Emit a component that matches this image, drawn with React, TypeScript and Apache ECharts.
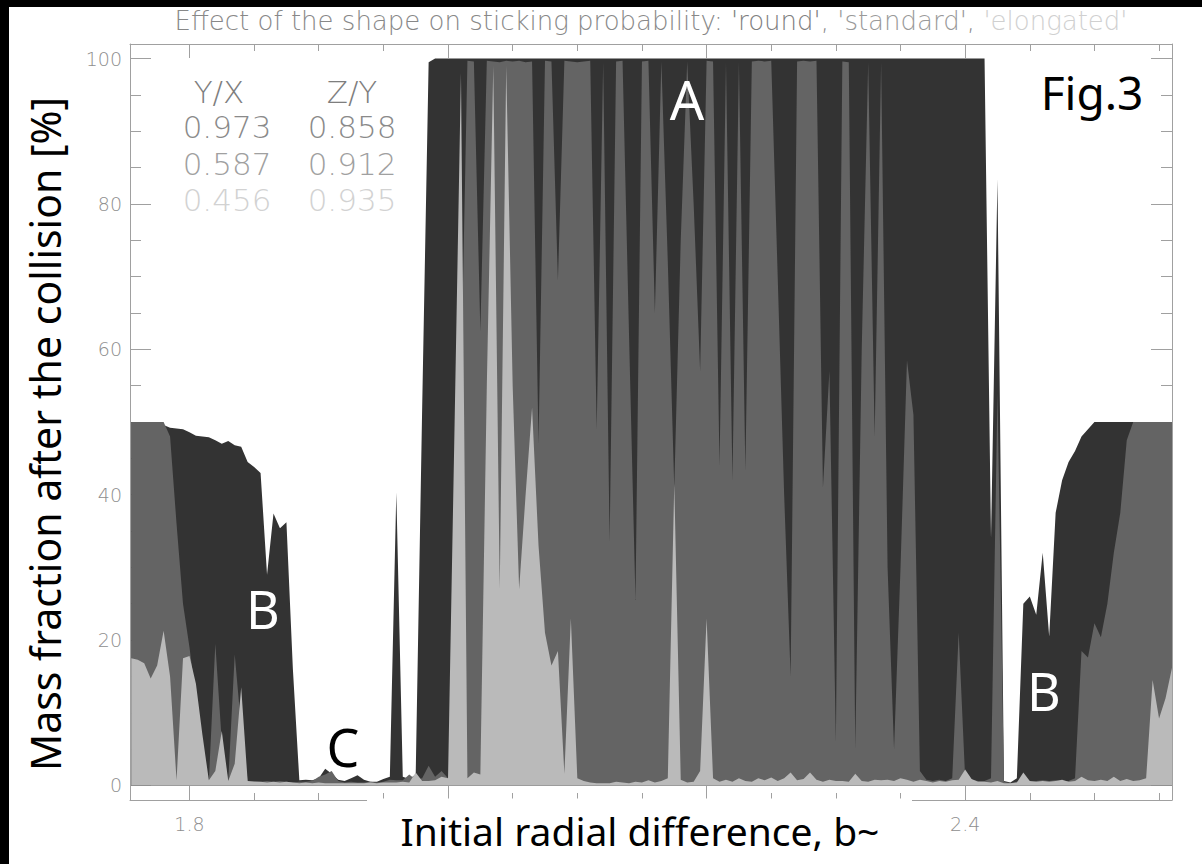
import React, { useEffect, useRef } from 'react';
import * as echarts from 'echarts';

// Initial radial difference b~ (sampling grid)
const bValues = [
  1.755, 1.76, 1.765, 1.77, 1.775, 1.78, 1.785, 1.79, 1.795, 1.8,
  1.805, 1.81, 1.815, 1.82, 1.825, 1.83, 1.835, 1.84, 1.845, 1.85,
  1.855, 1.86, 1.865, 1.87, 1.875, 1.88, 1.885, 1.89, 1.895, 1.9,
  1.905, 1.91, 1.915, 1.92, 1.925, 1.93, 1.935, 1.94, 1.945, 1.95,
  1.955, 1.96, 1.965, 1.97, 1.975, 1.98, 1.985, 1.99, 1.995, 2.0,
  2.005, 2.01, 2.015, 2.02, 2.025, 2.03, 2.035, 2.04, 2.045, 2.05,
  2.055, 2.06, 2.065, 2.07, 2.075, 2.08, 2.085, 2.09, 2.095, 2.1,
  2.105, 2.11, 2.115, 2.12, 2.125, 2.13, 2.135, 2.14, 2.145, 2.15,
  2.155, 2.16, 2.165, 2.17, 2.175, 2.18, 2.185, 2.19, 2.195, 2.2,
  2.205, 2.21, 2.215, 2.22, 2.225, 2.23, 2.235, 2.24, 2.245, 2.25,
  2.255, 2.26, 2.265, 2.27, 2.275, 2.28, 2.285, 2.29, 2.295, 2.3,
  2.305, 2.31, 2.315, 2.32, 2.325, 2.33, 2.335, 2.34, 2.345, 2.35,
  2.355, 2.36, 2.365, 2.37, 2.375, 2.38, 2.385, 2.39, 2.395, 2.4,
  2.405, 2.41, 2.415, 2.42, 2.425, 2.43, 2.435, 2.44, 2.445, 2.45,
  2.455, 2.46, 2.465, 2.47, 2.475, 2.48, 2.485, 2.49, 2.495, 2.5,
  2.505, 2.51, 2.515, 2.52, 2.525, 2.53, 2.535, 2.54, 2.545, 2.55,
  2.555, 2.56,
];

// 'round' shape (dark)
const roundValues = [
  50, 50, 50, 50, 50, 49.6, 49.2, 49.1, 49, 48.6,
  48.1, 48, 47.9, 47.5, 47, 47.4, 46.8, 46.6, 44.5, 43.8,
  43, 29, 37.4, 35.4, 36.2, 16, 0.7, 0.8, 0.7, 1.0,
  2.3, 1.6, 0.8, 0.6, 1.0, 1.4, 0.8, 0.5, 0.5, 0.9,
  1.2, 40.3, 1.2, 0.9, 1.5, 52, 99.5, 100, 100, 100,
  100, 100, 100, 100, 100, 100, 100, 100, 100, 100,
  100, 100, 100, 100, 100, 100, 100, 100, 100, 100,
  100, 100, 100, 100, 100, 100, 100, 100, 100, 100,
  100, 100, 100, 100, 100, 100, 100, 100, 100, 100,
  100, 100, 100, 100, 100, 100, 100, 100, 100, 100,
  100, 100, 100, 100, 100, 100, 100, 100, 100, 100,
  100, 100, 100, 100, 100, 100, 100, 100, 100, 100,
  100, 100, 100, 100, 100, 100, 100, 100, 100, 100,
  100, 100, 100, 34, 83.4, 0.6, 0.4, 1.0, 25, 26,
  23.5, 32, 20.5, 37.5, 42, 44.5, 46, 48, 49, 50,
  50, 50, 50, 50, 50, 50, 50, 50, 50, 50,
  50, 50,
];

// 'standard' shape (medium grey)
const standardValues = [
  50, 50, 50, 50, 50, 50, 48, 36, 25, 19,
  12, 3, 0.6, 19.5, 6, 0.6, 18, 8, 0.6, 0.6,
  0.5, 0.6, 0.5, 0.6, 0.5, 0.4, 0.5, 0.5, 0.6, 1.2,
  1.5, 2.0, 0.6, 0.4, 0.5, 0.4, 0.4, 0.5, 0.4, 0.5,
  0.8, 0.7, 0.7, 1.5, 0.8, 1.0, 2.7, 1.2, 2.0, 1.0,
  1.0, 55, 99.7, 99.6, 62.5, 99.7, 99.6, 99.5, 99.7, 99.6,
  99.7, 99.5, 99.6, 47, 99.7, 99.6, 69.5, 99.7, 99.6, 99.5,
  99.6, 99.7, 49, 99.5, 33.5, 99.6, 99.7, 62, 25.5, 99.6,
  99.7, 65, 99.6, 72, 41, 75, 99.6, 80, 57, 99.7,
  99.6, 44, 99.5, 42, 99.5, 43.3, 99.6, 99.7, 99.6, 99.7,
  70, 40, 15, 99.6, 99.7, 99.6, 99.7, 41, 57, 6,
  99.6, 99.5, 5, 60, 99.5, 48, 99.5, 30, 5, 30,
  58.5, 51, 2, 0.8, 0.6, 0.8, 0.6, 1.0, 21, 1.0,
  0.8, 0.6, 0.6, 1.0, 54, 0.5, 0.3, 0.5, 0.6, 0.5,
  0.6, 0.7, 0.6, 0.7, 0.6, 0.6, 1.0, 18.5, 17.6, 22.3,
  20.4, 25, 32, 37.5, 47.5, 50, 50, 50, 50, 50,
  50, 50,
];

// 'elongated' shape (light grey)
const elongatedValues = [
  17.5, 17.3, 16.8, 14.7, 16.5, 21.3, 15, 0.7, 17.5, 17.8,
  14, 7, 0.7, 2, 7.5, 0.6, 3, 13.5, 0.6, 0.5,
  0.5, 0.4, 0.5, 0.4, 0.5, 0.4, 0.3, 0.4, 0.3, 0.4,
  0.3, 0.3, 0.3, 0.3, 0.3, 0.3, 0.3, 0.4, 0.3, 0.4,
  0.4, 0.4, 0.5, 0.4, 1.8, 0.6, 0.6, 0.7, 1.2, 1.0,
  49, 98, 1.0, 1.8, 1.5, 55, 99, 27, 99, 55,
  27, 40, 52, 33, 21, 16.5, 18.5, 1.6, 23, 1.0,
  0.6, 0.4, 0.3, 0.3, 0.3, 0.5, 0.4, 0.3, 0.5, 0.4,
  0.7, 0.4, 0.6, 1.0, 41.5, 0.8, 0.4, 0.5, 2, 23,
  1.0, 0.5, 0.8, 0.5, 1.0, 0.6, 0.5, 1.0, 0.7, 1.1,
  0.6, 1.0, 1.8, 0.7, 0.9, 1.8, 0.8, 0.5, 0.8, 0.6,
  0.6, 0.5, 1.6, 0.6, 0.5, 0.8, 0.7, 0.8, 0.6, 1.0,
  0.8, 0.5, 0.8, 0.6, 0.4, 0.6, 0.5, 0.7, 0.8, 2.2,
  0.9, 0.5, 0.5, 0.4, 0.6, 0.3, 0.3, 0.4, 1.8, 0.6,
  0.5, 0.6, 0.5, 0.6, 0.8, 0.5, 0.6, 1.2, 0.7, 0.6,
  0.8, 0.6, 1.2, 0.6, 0.9, 0.6, 0.7, 1.0, 14.5, 9.2,
  12, 16.2,
];

const xMajorTicks = [1.8, 2.0, 2.2, 2.4];
const xMinorTicks = [1.85, 1.9, 1.95, 2.05, 2.1, 2.15, 2.25, 2.3, 2.35, 2.45, 2.5, 2.55];
const xTickLabels = [1.8, 2.4];
const yMajorTicks = [0, 20, 40, 60, 80, 100];
const yMinorTicks = [5, 10, 15, 25, 30, 35, 45, 50, 55, 65, 70, 75, 85, 90, 95];

const ratioHeader = ['Y/X', 'Z/Y'];
const ratioRows = [
  ['0.973', '0.858'],
  ['0.587', '0.912'],
  ['0.456', '0.935'],
];
const ratioColors = ['#8a8a8a', '#a0a0a0', '#d2d2d2'];

const X_MIN = 1.754;
const X_MAX = 2.56;
const Y_MIN = -2;
const Y_MAX = 102;

const THIN = "'DejaVu Sans', 'Noto Sans', sans-serif";
const HAND = "'Noto Sans', 'Open Sans', sans-serif";
const AXIS_GREY = '#a0a0a0';

function makeXAxis(position: 'top' | 'bottom', ticks: number[], len: number, main: boolean) {
  return {
    type: 'value',
    min: X_MIN,
    max: X_MAX,
    position,
    axisLine: { show: main, onZero: false, lineStyle: { color: AXIS_GREY, width: 1 } },
    axisTick: { show: true, inside: true, length: len, customValues: ticks, lineStyle: { color: AXIS_GREY, width: 1 } },
    axisLabel: main && position === 'bottom'
      ? { show: true, customValues: xTickLabels, margin: 14, color: '#8e8e8e', fontSize: 19, fontFamily: THIN, fontWeight: 200, formatter: (v: number) => v.toFixed(1) }
      : { show: false },
    splitLine: { show: false },
  };
}

function makeYAxis(position: 'left' | 'right', ticks: number[], len: number, main: boolean) {
  return {
    type: 'value',
    min: Y_MIN,
    max: Y_MAX,
    position,
    axisLine: { show: main, onZero: false, lineStyle: { color: AXIS_GREY, width: 1 } },
    axisTick: { show: true, inside: true, length: len, customValues: ticks, lineStyle: { color: AXIS_GREY, width: 1 } },
    axisLabel: main && position === 'left'
      ? { show: true, customValues: yMajorTicks, margin: 8, color: '#8e8e8e', fontSize: 19, fontFamily: THIN, fontWeight: 200 }
      : { show: false },
    splitLine: { show: false },
  };
}

function areaSeries(name: string, values: number[], color: string) {
  return {
    name,
    type: 'line',
    xAxisIndex: 0,
    yAxisIndex: 0,
    data: bValues.map((b, i) => [b, values[i]]),
    symbol: 'none',
    showSymbol: false,
    silent: true,
    lineStyle: { width: 0, color },
    areaStyle: { color, opacity: 1 },
    z: 2,
  };
}

export default function App() {
  const ref = useRef<HTMLDivElement>(null);

  useEffect(() => {
    if (!ref.current) return;
    const chart = echarts.init(ref.current, null, { renderer: 'svg' });

    const legendTexts: any[] = [];
    const colX = [219, 352];
    ratioHeader.forEach((h, c) => {
      legendTexts.push({
        type: 'text', x: colX[c], y: 92, z: 100,
        style: { text: h, fill: '#7e7e7e', fontSize: 31, fontFamily: THIN, fontWeight: 200, align: 'center', verticalAlign: 'middle', textAlign: 'center', textVerticalAlign: 'middle' },
      });
    });
    ratioRows.forEach((row, r) => {
      row.forEach((t, c) => {
        legendTexts.push({
          type: 'text', x: c === 0 ? 227 : 352, y: 127 + r * 36.5, z: 100,
          style: { text: t, fill: ratioColors[r], fontSize: 31, fontFamily: THIN, fontWeight: 200, align: 'center', verticalAlign: 'middle', textAlign: 'center', textVerticalAlign: 'middle' },
        });
      });
    });

    const label = (text: string, x: number, y: number, size: number, fill: string) => ({
      type: 'text', x, y, z: 100,
      style: { text, fill, fontSize: size, fontFamily: HAND, align: 'center', verticalAlign: 'middle', textAlign: 'center', textVerticalAlign: 'middle' },
    });

    const option: any = {
      animation: false,
      backgroundColor: '#ffffff',
      grid: { left: 130, top: 44, width: 1042, height: 756, containLabel: false, outerBoundsMode: 'none' },
      xAxis: [
        makeXAxis('bottom', xMajorTicks, 14, true),
        makeXAxis('bottom', xMinorTicks, 7, false),
        makeXAxis('top', xMajorTicks, 14, true),
        makeXAxis('top', xMinorTicks, 7, false),
      ],
      yAxis: [
        makeYAxis('left', yMajorTicks, 21, true),
        makeYAxis('left', yMinorTicks, 11, false),
        makeYAxis('right', yMajorTicks, 21, true),
        makeYAxis('right', yMinorTicks, 11, false),
      ],
      series: [
        areaSeries('round', roundValues, '#333333'),
        areaSeries('standard', standardValues, '#646464'),
        areaSeries('elongated', elongatedValues, '#bababa'),
      ],
      graphic: [
        { type: 'rect', shape: { x: 0, y: 0, width: 1202, height: 7 }, style: { fill: '#000' }, z: 100 },
        { type: 'rect', shape: { x: 0, y: 0, width: 9, height: 864 }, style: { fill: '#000' }, z: 100 },
        { type: 'rect', shape: { x: 367, y: 798.5, width: 545, height: 5 }, style: { fill: '#fff' }, z: 100 },
        {
          type: 'text', x: 651, y: 21, z: 100,
          style: {
            text: "{a|Effect of the shape on sticking probability: }{r|'round'}{a|, }{s|'standard'}{a|, }{e|'elongated'}",
            align: 'center', verticalAlign: 'middle', textAlign: 'center', textVerticalAlign: 'middle',
            fontSize: 26, fontFamily: THIN, fontWeight: 200,
            rich: {
              a: { fill: '#888888', fontSize: 26, fontFamily: THIN, fontWeight: 200 },
              r: { fill: '#808080', fontSize: 26, fontFamily: THIN, fontWeight: 200 },
              s: { fill: '#999999', fontSize: 26, fontFamily: THIN, fontWeight: 200 },
              e: { fill: '#d0d0d0', fontSize: 26, fontFamily: THIN, fontWeight: 200 },
            },
          },
        },
        ...legendTexts,
        {
          type: 'text', x: 45, y: 434, rotation: Math.PI / 2, z: 100,
          style: { text: 'Mass fraction after the collision [%]', fill: '#000', fontSize: 41, fontFamily: HAND, align: 'center', verticalAlign: 'middle', textAlign: 'center', textVerticalAlign: 'middle' },
        },
        label('Initial radial difference, b~', 640, 830, 39, '#000'),
        label('A', 687, 99, 54, '#ffffff'),
        label('B', 263, 608, 52, '#ffffff'),
        label('B', 1044, 690, 52, '#ffffff'),
        label('C', 343, 746, 52, '#000000'),
        label('Fig.3', 1092, 92, 46, '#000000'),
      ],
    };

    chart.setOption(option);
    return () => chart.dispose();
  }, []);

  return (
    <div
      ref={ref}
      style={{ position: 'fixed', left: 0, top: 0, width: 1202, height: 864, background: '#fff' }}
    />
  );
}
